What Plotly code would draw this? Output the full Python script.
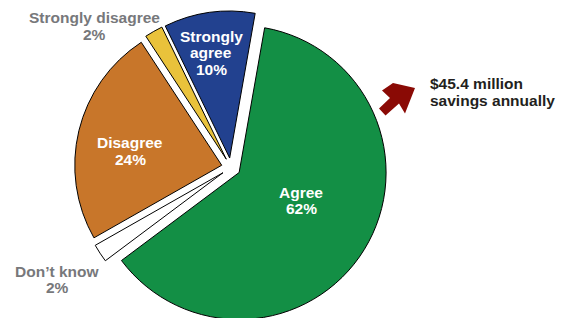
import plotly.graph_objects as go

# ---- data ----
labels = ["Agree", "Don’t know", "Disagree", "Strongly disagree", "Strongly agree"]
values = [62, 2, 24, 2, 10]
label_display = ["Agree", "Don’t know", "Disagree", "Strongly disagree", "Strongly<br>agree"]
colors = ["#138F45", "#FFFFFF", "#C8762A", "#E9C23B", "#22418F"]
label_colors = ["white", "#77787B", "white", "#77787B", "white"]
callout_lines = ["$45.4 million", "savings annually"]

# ---- layout geometry (page pixels; body has an 8px margin) ----
OFF = 8
W, H = 561, 320
MT, MB = 3, 4
PH = H - MT - MB
FONT = "Liberation Sans, Arial, Helvetica, sans-serif"
FS = 15.5
LINE = 16.7


def paper(px, py):
    return (px - OFF) / W, 1 - (py - OFF - MT) / PH


fig = go.Figure()
fig.add_trace(go.Pie(
    labels=labels,
    values=values,
    textposition="none",
    marker=dict(colors=colors, line=dict(color="black", width=1)),
    sort=False,
    direction="clockwise",
    rotation=10,
    pull=[0.065] * 5,
    domain=dict(x=[0.0975, 0.6975], y=[0, 1]),
    hoverinfo="label+percent",
))

# label placement (first-line centre, page px)
label_pos = [(301, 192), (57, 271), (130, 143), (94, 17.5), (211, 36)]

annotations = []
for i, (cx, cy) in enumerate(label_pos):
    lines = label_display[i].split("<br>") + [f"{values[i]}%"]
    for k, line in enumerate(lines):
        x, y = paper(cx, cy + k * LINE)
        annotations.append(dict(
            x=x, y=y, xref="paper", yref="paper", xanchor="center", yanchor="middle",
            text=line, showarrow=False,
            font=dict(family=FONT, size=FS, color=label_colors[i], weight="bold"),
        ))

for k, line in enumerate(callout_lines):
    x, y = paper(428, 83.5 + k * 17)
    annotations.append(dict(
        x=x, y=y, xref="paper", yref="paper", xanchor="left", yanchor="middle",
        text=line, showarrow=False,
        font=dict(family=FONT, size=FS, color="#231F20", weight="bold"),
    ))

# block arrow (decoration), page px
arrow_pts = [(415, 88), (405, 113.5), (399, 103.5), (385.5, 115.5), (379, 108.5),
             (390, 98), (382, 90.5), (393, 83)]
path = "M " + " L ".join("{:.5f},{:.5f}".format(*paper(a, b)) for a, b in arrow_pts) + " Z"

fig.update_layout(
    width=W, height=H,
    margin=dict(l=0, r=0, t=MT, b=MB),
    paper_bgcolor="white", plot_bgcolor="white",
    showlegend=False,
    annotations=annotations,
    shapes=[dict(type="path", path=path, xref="paper", yref="paper",
                 fillcolor="#8A0A05", line=dict(width=0))],
)

fig.write_html("out.html")
